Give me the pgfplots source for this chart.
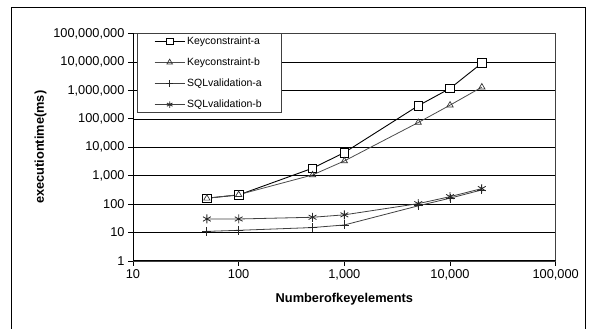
\documentclass[border=0pt]{standalone}
\usepackage{pgfplots}
\pgfplotsset{compat=1.18}
\usepackage{fontspec}
\setmainfont{Liberation Sans}
\begin{document}
\begin{tikzpicture}[x=1pt,y=1pt]
\useasboundingbox (0,0) rectangle (589,329);
\draw[black, line width=1pt] (11,-20) rectangle (585.5,321);
\begin{axis}[
  at={(133pt,68pt)}, anchor=south west,
  scale only axis, width=422.7pt, height=227.5pt,
  xmode=log, ymode=log,
  xmin=10, xmax=100000, ymin=1, ymax=100000000,
  log ticks with fixed point,
  /pgf/number format/1000 sep={,},
  /pgf/number format/assume math mode=true,
  xminorticks=false, yminorticks=false,
  tick align=outside, tick pos=left,
  major tick length=5pt,
  tick style={black, line width=0.8pt},
  ymajorgrids, grid style={black, line width=0.6pt},
  axis line style={black!75, line width=0.8pt},
  tick label style={font=\fontsize{12.8}{14}\selectfont},
  xlabel={\textbf{Numberofkeyelements}},
  ylabel={\textbf{executiontime(ms)}},
  label style={font=\fontsize{12.8}{14}\selectfont},
  xlabel style={yshift=-6pt},
  legend cell align=left,
  legend style={at={(0.0095,1)}, anchor=north west, draw=black!75, fill=white,
    font=\fontsize{10.5}{12}\selectfont, row sep=8pt, inner xsep=17pt, inner ysep=1pt},
  legend image code/.code={\draw[mark repeat=2,mark phase=2,#1,mark size=3.2pt] plot coordinates {(0pt,0pt) (15pt,0pt) (30pt,0pt)};},
]
\draw[black, line width=1.1pt] (rel axis cs:0,1) -- (rel axis cs:0,0) -- (rel axis cs:1,0);
\addplot[black, line width=0.9pt, mark=square*, mark size=4.3pt, mark options={fill=white, solid, line width=0.7pt}]
  coordinates {(50,162) (100,210) (500,1830) (1000,6500) (5000,288000) (10000,1170000) (20000,9100000)};
\addlegendentry{Keyconstraint-a\hspace{10pt}}
\addplot[black!70, line width=0.8pt, mark=triangle, mark size=3.6pt, mark options={black!80, line width=0.7pt}]
  coordinates {(50,160) (100,215) (500,1060) (1000,3300) (5000,74000) (10000,302000) (20000,1300000)};
\addlegendentry{Keyconstraint-b}
\addplot[black!75, line width=0.8pt, mark=+, mark size=4.5pt, mark options={black!85, line width=0.8pt}]
  coordinates {(50,11) (100,12) (500,15) (1000,18.5) (5000,87) (10000,162) (20000,316)};
\addlegendentry{SQLvalidation-a}
\addplot[black!75, line width=0.8pt, mark=asterisk, mark size=4.5pt, mark options={black!85, line width=0.8pt}]
  coordinates {(50,30) (100,30) (500,34.5) (1000,42) (5000,104) (10000,183) (20000,352)};
\addlegendentry{SQLvalidation-b}
\end{axis}
\end{tikzpicture}
\end{document}
